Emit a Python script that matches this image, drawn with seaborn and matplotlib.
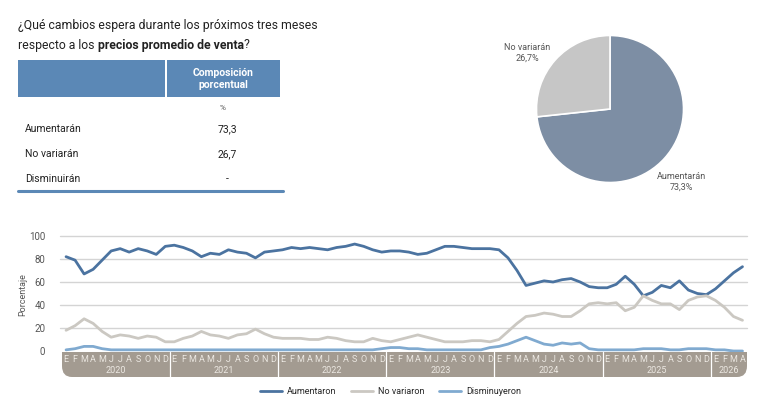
import numpy as np
import pandas as pd
import matplotlib.pyplot as plt
import matplotlib.patches as mpatches
import seaborn as sns

# ─────────────────────────────────────────────
# DATA
# ─────────────────────────────────────────────
tabla_categorias = ['Aumentarán', 'No variarán', 'Disminuirán']
tabla_valores    = ['73,3', '26,7', '-']

pie_labels = ['Aumentarán', 'No variarán']
pie_values = [73.3, 26.7]

years  = ['2020', '2021', '2022', '2023', '2024', '2025', '2026']
meses  = ['E', 'F', 'M', 'A', 'M', 'J', 'J', 'A', 'S', 'O', 'N', 'D']
meses_2026 = ['E', 'F', 'M', 'A']

aumentaron = [
    82, 79, 67, 71, 79, 87, 89, 86, 89, 87, 84, 91,     # 2020
    92, 90, 87, 82, 85, 84, 88, 86, 85, 81, 86, 87,     # 2021
    88, 90, 89, 90, 89, 88, 90, 91, 93, 91, 88, 86,     # 2022
    87, 87, 86, 84, 85, 88, 91, 91, 90, 89, 89, 89,     # 2023
    88, 81, 70, 57, 59, 61, 60, 62, 63, 60, 56, 55,     # 2024
    55, 58, 65, 58, 48, 51, 57, 55, 61, 53, 50, 49,     # 2025
    54, 61, 68, 73.3,                                   # 2026
]
no_variaron = [
    18, 22, 28, 24, 17, 12, 14, 13, 11, 13, 12, 8,
    8, 11, 13, 17, 14, 13, 11, 14, 15, 19, 15, 12,
    11, 11, 11, 10, 10, 12, 11, 9, 8, 8, 11, 9,
    8, 10, 12, 14, 12, 10, 8, 8, 8, 9, 9, 8,
    10, 17, 24, 30, 31, 33, 32, 30, 30, 35, 41, 42,
    41, 42, 35, 38, 48, 44, 41, 41, 36, 44, 47, 48,
    44, 38, 30, 26.7,
]
disminuyeron = [
    1, 2, 4, 4, 2, 1, 1, 1, 1, 1, 1, 1,
    1, 1, 1, 1, 1, 1, 1, 1, 1, 1, 1, 1,
    1, 1, 1, 1, 1, 1, 1, 1, 1, 1, 1, 2,
    3, 3, 2, 2, 1, 1, 1, 1, 1, 1, 1, 3,
    4, 6, 9, 12, 9, 6, 5, 7, 6, 7, 2, 1,
    1, 1, 1, 1, 2, 2, 2, 1, 1, 2, 2, 2,
    1, 1, 0, 0,
]

series = {'Aumentaron': aumentaron, 'No variaron': no_variaron, 'Disminuyeron': disminuyeron}
n_meses = len(aumentaron)
df = pd.concat([pd.DataFrame({'mes': range(n_meses), 'valor': v, 'serie': k})
                for k, v in series.items()], ignore_index=True)

# ─────────────────────────────────────────────
# STYLE
# ─────────────────────────────────────────────
sns.set_style('white')
plt.rcParams['font.family'] = ['Roboto', 'DejaVu Sans']

AZUL_TABLA = '#5b88b6'
COL_AUM    = '#4b73a0'
COL_NOV    = '#cbc8c2'
COL_DIS    = '#80aad0'
BANDA      = '#a39b91'
TXT        = '#222222'
GRIS_TXT   = '#555555'

W, H = 760, 409
fig = plt.figure(figsize=(W / 100, H / 100), dpi=100)
fig.patch.set_facecolor('white')

def px(x, y):
    return x / W, 1 - y / H

# ── Title ──────────────────────────────────
fig.text(*px(18, 25), '¿Qué cambios espera durante los próximos tres meses',
         fontsize=8.8, color=TXT, va='center', ha='left')
t1 = fig.text(*px(18, 45), 'respecto a los ', fontsize=8.8, color=TXT, va='center', ha='left')
fig.canvas.draw()
r = fig.canvas.get_renderer()
x_next = t1.get_window_extent(r).x1
t2 = fig.text(x_next / W, 1 - 45 / H, 'precios promedio de venta', fontsize=8.8,
              fontweight='bold', color=TXT, va='center', ha='left')
x_next = t2.get_window_extent(r).x1
fig.text(x_next / W, 1 - 45 / H, '?', fontsize=8.8, color=TXT, va='center', ha='left')

# ── Table ──────────────────────────────────
fig.patches.append(mpatches.Rectangle(px(18, 97), 147 / W, 37 / H, transform=fig.transFigure,
                                      facecolor=AZUL_TABLA, edgecolor='none'))
fig.patches.append(mpatches.Rectangle(px(167, 97), 113 / W, 37 / H, transform=fig.transFigure,
                                      facecolor=AZUL_TABLA, edgecolor='none'))
fig.text(*px(223, 79), 'Composición\nporcentual', fontsize=7.5, fontweight='bold',
         color='white', ha='center', va='center', linespacing=1.25)
fig.text(*px(223, 108), '%', fontsize=6, color=GRIS_TXT, ha='center', va='center')
for i, (cat, val) in enumerate(zip(tabla_categorias, tabla_valores)):
    y = 129 + i * 25
    fig.text(*px(25, y), cat, fontsize=7.5, color=TXT, ha='left', va='center')
    fig.text(*px(227, y), val, fontsize=7.5, color=TXT, ha='center', va='center')
fig.lines.append(plt.Line2D([18 / W, 283 / W], [1 - 191 / H] * 2, transform=fig.transFigure,
                            color=AZUL_TABLA, linewidth=2.2))

# ── Pie ────────────────────────────────────
ax_pie = fig.add_axes([535 / W, 1 - 184 / H, 150 / W, 150 / H])
ax_pie.pie(pie_values, colors=['#7d8ea4', '#c6c6c6'], startangle=90, counterclock=False,
           wedgeprops=dict(edgecolor='white', linewidth=1.2))
ax_pie.set_xlim(-1.02, 1.02); ax_pie.set_ylim(-1.02, 1.02)
ax_pie.text(-1.13, 0.76, f'{pie_labels[1]}\n{pie_values[1]:.1f}%'.replace('.', ','),
            fontsize=6.5, color=GRIS_TXT, ha='center', va='center', clip_on=False)
ax_pie.text(0.97, -0.99, f'{pie_labels[0]}\n{pie_values[0]:.1f}%'.replace('.', ','),
            fontsize=6.5, color=GRIS_TXT, ha='center', va='center', clip_on=False)

# ── Line chart ─────────────────────────────
x0, x1 = -0.45, n_meses - 1 + 0.5
ax = fig.add_axes([62 / W, 1 - 352.15 / H, 685 / W, 116.15 / H])
sns.lineplot(data=df, x='mes', y='valor', hue='serie', ax=ax,
             palette={'Aumentaron': COL_AUM, 'No variaron': COL_NOV, 'Disminuyeron': COL_DIS},
             linewidth=2, clip_on=False, zorder=3)
ax.set_xlim(x0, x1)
ax.set_ylim(-1, 100)
ax.set_yticks([0, 20, 40, 60, 80, 100])
for yv in [20, 40, 60, 80, 100]:
    ax.axhline(yv, xmin=-0.003, color='#d4d4d4', linewidth=1, zorder=1, clip_on=False)
ax.set_xticks([])
ax.set_xlabel('')
ax.set_ylabel('Porcentaje', fontsize=6.5, color=GRIS_TXT)
ax.yaxis.set_label_coords(-0.051, 0.5)
ax.tick_params(axis='y', length=0, pad=12, labelsize=7, labelcolor=GRIS_TXT)
for s in ax.spines.values():
    s.set_visible(False)

sns.move_legend(ax, 'center', bbox_to_anchor=(0.48, -0.343), ncol=3, frameon=False,
                title=None, fontsize=6.5, handlelength=2.4, columnspacing=1.6, handletextpad=0.6)
for ln in ax.get_legend().get_lines():
    ln.set_linewidth(2)

# ── Month / year band ──────────────────────
ax_b = fig.add_axes([62 / W, 1 - 377 / H, 685 / W, 25 / H])
ax_b.set_xlim(x0, x1); ax_b.set_ylim(0, 1)
ax_b.axis('off')
band_w = x1 - x0
ax_b.add_patch(mpatches.FancyBboxPatch((x0, 0), band_w, 1,
               boxstyle='round,pad=0,rounding_size=1.1', mutation_aspect=0.4,
               facecolor=BANDA, edgecolor='none'))
ax_b.add_patch(mpatches.Rectangle((x0, 0.5), band_w, 0.5, facecolor=BANDA, edgecolor='none'))

labels_mes = meses * (len(years) - 1) + meses_2026
for i, m in enumerate(labels_mes):
    ax_b.text(i, 0.72, m, fontsize=6.5, color='#ece8e2', ha='center', va='center')
for k, yr in enumerate(years):
    start = k * 12
    end = min(start + 12, n_meses) - 1
    ax_b.text((start + end) / 2, 0.25, yr, fontsize=6.5, color='#ece8e2', ha='center', va='center')
    if k > 0:
        ax_b.plot([start - 0.5, start - 0.5], [0.02, 1], color='white', linewidth=0.9)

fig.savefig('out.png', dpi=100, facecolor='white')
